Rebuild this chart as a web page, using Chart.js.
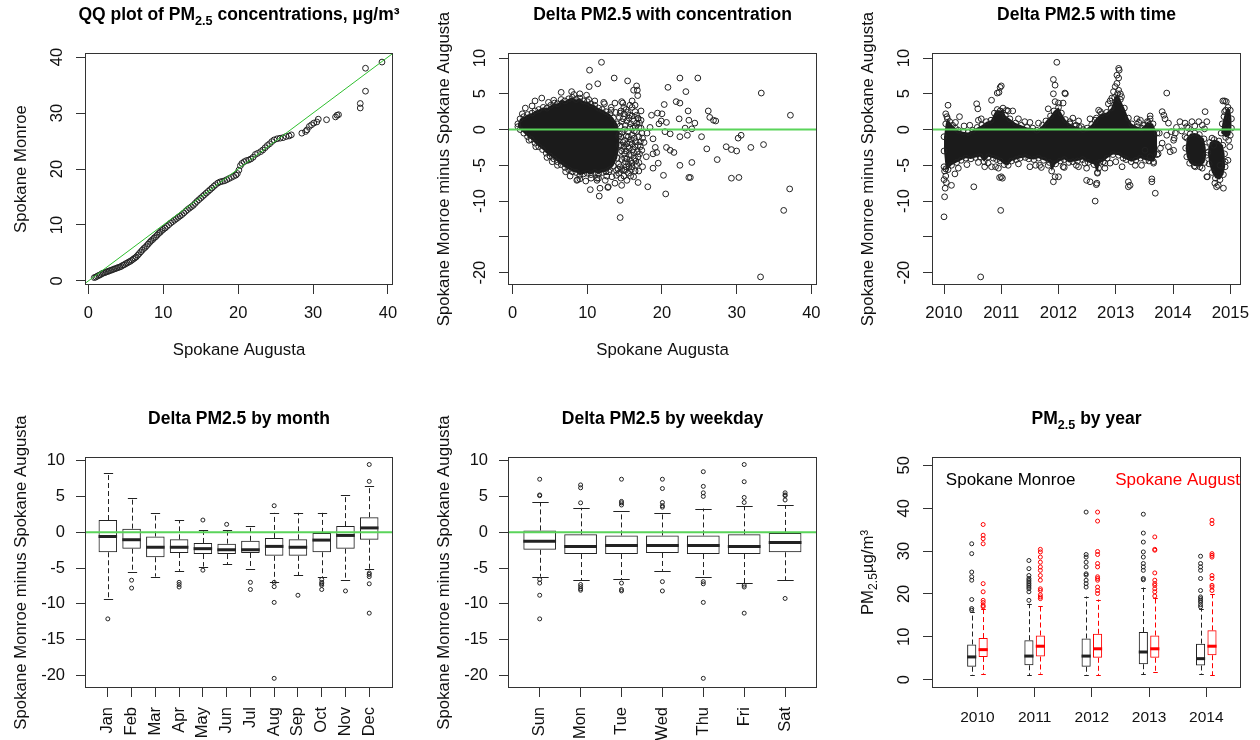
<!DOCTYPE html>
<html>
<head>
<meta charset="utf-8">
<title>Spokane Monroe vs Spokane Augusta PM2.5</title>
<script src="https://cdn.jsdelivr.net/npm/chart.js@4.4.1/dist/chart.umd.min.js"></script>
<style>
  html, body { margin: 0; padding: 0; background: #fff; }
  #wrap { position: relative; width: 1260px; height: 740px; overflow: hidden; }
  #wrap canvas { position: absolute; }
</style>
</head>
<body>
<div id="wrap">
  <canvas id="qq" width="420" height="370" style="left:0;top:0"></canvas>
  <canvas id="conc" width="420" height="370" style="left:420px;top:0"></canvas>
  <canvas id="time" width="420" height="370" style="left:840px;top:0"></canvas>
  <canvas id="month" width="420" height="370" style="left:0;top:370px"></canvas>
  <canvas id="weekday" width="420" height="370" style="left:420px;top:370px"></canvas>
  <canvas id="year" width="420" height="370" style="left:840px;top:370px"></canvas>
</div>
<script>
// ---- values ----

// QQ plot: [Spokane Augusta quantile, Spokane Monroe quantile]
const qqPoints = [
  [0.8,0.6],[1.0,0.7],[1.2,0.85],[1.4,1.0],[1.6,1.1],[1.8,1.3],[2.0,1.4],[2.2,1.5],[2.4,1.6],[2.6,1.7],
  [2.8,1.8],[3.0,1.9],[3.2,2.0],[3.4,2.1],[3.6,2.2],[3.8,2.3],[4.0,2.4],[4.2,2.5],[4.4,2.6],[4.6,2.8],
  [4.8,2.9],[5.0,3.1],[5.2,3.2],[5.4,3.4],[5.6,3.5],[5.8,3.7],[6.0,3.9],[6.2,4.1],[6.4,4.3],[6.6,4.6],
  [6.8,4.9],[7.0,5.2],[7.2,5.5],[7.4,5.8],[7.6,6.0],[7.8,6.3],[8.0,6.6],[8.2,6.9],[8.4,7.2],[8.6,7.4],
  [8.8,7.7],[9.0,7.9],[9.2,8.2],[9.4,8.5],[9.6,8.7],[9.8,9.0],[10.0,9.2],[10.25,9.45],[10.5,9.75],[10.75,10.05],
  [11.0,10.35],[11.25,10.6],[11.5,10.85],[11.75,11.1],[12.0,11.35],[12.25,11.6],[12.5,11.85],[12.75,12.15],[13.0,12.45],[13.25,12.75],
  [13.5,13.0],[13.75,13.25],[14.0,13.5],[14.25,13.85],[14.5,14.2],[14.75,14.5],[15.0,14.8],[15.25,15.1],[15.5,15.4],[15.75,15.7],
  [16.0,16.0],[16.25,16.3],[16.5,16.6],[16.75,16.9],[17.0,17.2],[17.3,17.5],[17.6,17.7],[17.9,17.8],[18.2,17.9],[18.5,18.1],
  [18.8,18.3],[19.1,18.5],[19.4,18.7],[19.7,18.9],[19.9,19.2],[20.1,19.8],[20.3,20.6],[20.5,21.0],[20.8,21.3],[21.1,21.5],
  [21.4,21.6],[21.7,21.8],[22.0,22.1],[22.3,22.6],[22.6,22.8],[23.0,23.1],[23.3,23.4],[23.6,23.8],[23.9,24.2],[24.2,24.5],
  [24.5,24.9],[24.8,25.2],[25.2,25.4],[25.6,25.5],[26.0,25.6],[26.4,25.8],[26.8,25.9],[27.1,26.1],[28.5,26.4],[29.0,26.7],
  [29.2,27.0],[29.5,27.6],[29.8,27.9],[30.1,28.2],[30.5,28.4],[30.7,28.9],[31.8,28.8],[33.0,29.3],[33.2,29.6],[33.4,29.7],
  [36.3,30.9],[36.3,31.7],[37.0,33.9],[37.0,38.0],[39.2,39.1]
];

// delta vs concentration: upper and lower edge of the solid cloud, then single points
const concUpper = [
  [0.7,0.8],[1.0,1.5],[1.5,1.8],[2.0,2.1],[2.6,2.3],[3.0,2.6],[3.5,2.8],[4.1,3.1],[4.6,3.0],[5.1,3.4],
  [5.6,3.7],[6.0,3.6],[6.5,4.2],[7.0,4.0],[7.5,4.3],[8.0,4.5],[8.5,4.2],[9.0,4.4],[9.5,4.0],[10.0,3.9],
  [10.5,3.6],[11.0,3.4],[11.5,3.0],[12.0,2.8],[12.5,2.5],[13.0,2.2],[13.5,1.6],[14.0,0.8],[14.3,-0.6]
];
const concLower = [
  [0.7,0.4],[1.0,0.0],[1.5,-0.5],[2.0,-1.0],[2.5,-1.4],[3.0,-1.9],[3.5,-2.4],[4.0,-2.8],[4.5,-3.3],[5.0,-3.7],
  [5.5,-4.1],[6.0,-4.5],[6.5,-4.9],[7.0,-5.3],[7.5,-5.6],[8.0,-5.9],[8.5,-6.0],[9.0,-6.4],[9.5,-6.2],[10.0,-6.1],
  [10.5,-6.3],[11.0,-6.0],[11.5,-6.2],[12.0,-6.0],[12.5,-5.9],[13.0,-5.6],[13.5,-5.1],[14.0,-4.0],[14.3,-2.2]
];
const concPoints = [
  [10.3,8.3],[11.9,9.4],[10.25,6.0],[11.4,6.4],[13.6,7.2],[15.4,6.8],[16.6,6.1],[16.7,5.5],[16.2,5.5],[16.75,4.75],
  [14.75,3.7],[16.0,3.1],[16.8,1.5],[18.4,0.3],[18.0,-0.5],[18.8,-1.3],[19.1,-2.5],[19.3,-3.2],[18.8,-3.4],[19.5,-4.7],
  [18.8,-5.4],[18.1,-8.0],[14.4,-9.9],[14.4,-12.3],[11.6,-9.3],[10.4,-8.4],[12.75,-8.1],[16.8,-7.4],[15.3,-7.1],[11.3,-7.1],
  [8.6,-7.1],[22.4,7.2],[24.8,7.2],[20.8,5.9],[23.2,5.3],[33.3,5.1],[20.3,3.5],[21.9,3.9],[22.4,3.7],[20.0,2.2],
  [23.5,2.6],[26.2,2.6],[26.4,1.7],[26.9,1.3],[27.2,1.2],[37.2,2.0],[22.3,1.5],[23.6,1.3],[24.4,0.9],[20.6,1.0],
  [23.1,0.2],[24.0,0.1],[21.1,-0.6],[22.4,-1.0],[23.4,-0.8],[25.3,-1.0],[20.6,-2.5],[21.1,-2.9],[21.6,-3.2],[26.0,-2.7],
  [28.6,-2.4],[29.3,-2.8],[30.0,-3.0],[30.6,-0.8],[30.2,-1.2],[31.9,-2.5],[33.6,-2.1],[27.4,-4.2],[22.4,-5.0],[24.0,-4.6],
  [23.6,-6.7],[23.8,-6.7],[29.3,-6.8],[30.3,-6.7],[20.2,-6.4],[20.5,-9.0],[36.3,-11.3],[37.1,-8.3],[33.2,-20.6],[19.4,2.3],
  [19.9,1.2],[18.6,2.0],[17.6,-1.8],[17.9,-3.8],[17.4,-5.2],[19.6,0.8],[20.4,-0.3],
  [13.7,3.7],[14.6,3.9],[15.7,3.4],[14.4,2.3],[15.7,2.0],[16.8,1.6],[16.4,0.4],[17.3,-0.5],[17.1,-1.7],[17.3,-2.9],
  [16.8,-3.8],[16.0,-4.7],[15.1,-5.7],[14.2,-6.1],[13.3,-6.6],[12.4,-7.1],[11.5,-6.8],[13.7,-7.5],[14.6,-7.8],[12.8,-8.0],
  [11.7,-8.2],[15.0,0.0],[15.5,-1.0],[16.0,-2.0],[15.2,-3.0],[16.3,-1.2],[15.8,0.8],[16.6,-0.3],[15.0,-4.0],[16.2,-3.2],
  [14.8,1.5],[15.5,-4.8],[16.8,-2.2],[14.9,-2.4],[15.6,-2.6],[16.1,0.2],[14.5,-1.0],[14.6,-3.0],[14.2,-4.8],[14.4,0.5],
  [15.3,1.2],[16.4,2.5],[15.9,-5.6],[14.9,-6.5],[13.9,-5.7],[12.9,-5.9],[16.5,-4.4],[17.0,0.9],[15.2,2.8],[13.2,3.1],
  [12.3,3.6],[15.4,-0.3],[16.0,-0.8],[16.9,-1.0],[15.7,-1.8],[16.4,-2.4],[17.0,-3.4],[15.9,-3.6],[15.3,-2.0],[16.6,-4.9],
  [15.6,-5.2],[15.1,-4.5],[14.9,-5.6],[16.2,1.2],[15.6,1.6],[17.2,0.2],[16.9,-5.8],[15.8,-6.5],[14.6,-5.6],[15.0,-1.5],
  [16.6,0.9],
  [14.5,2.6],[14.9,2.2],[15.4,2.4],[16.0,1.9],[16.6,2.0],[17.2,1.3],[14.6,1.1],[15.1,0.6],[15.7,0.3],[16.3,-0.2],
  [16.9,0.3],[17.4,-1.2],[14.7,-0.4],[15.2,-0.9],[15.9,-1.4],[16.5,-1.7],[17.1,-2.4],[14.8,-1.8],[15.4,-2.4],[16.1,-2.8],
  [16.7,-3.1],[14.5,-2.2],[15.0,-3.4],[15.6,-3.5],[16.3,-4.0],[14.6,-4.2],[15.3,-4.1],[16.0,-5.2],[16.9,-4.6],[14.4,-5.2],
  [15.2,-5.2],[15.8,-4.4],[14.1,-5.5],[16.4,-5.8],[13.9,-6.4],[14.5,-6.8],[15.5,-6.1],[16.2,-6.6],[14.3,1.7],[13.8,2.4],
  [14.9,3.1],[16.4,3.4],[17.2,2.6],[16.0,4.0],[14.2,-0.9],[14.3,-3.2],
  [3.0,4.0],[3.9,4.4],[5.5,4.1],[6.5,5.2],[7.9,5.3],[9.0,5.0],[9.9,4.8],[11.0,4.0],[1.7,3.0],[2.6,3.3],
  [10.2,4.2],[12.2,3.8],[13.2,2.7],[8.2,4.9],[4.8,3.8],[1.3,2.2],
  [8.7,-7.0],[9.8,-7.2],[9.0,-6.9],[7.7,-6.5],[10.5,-6.8],[11.3,-6.8],[6.0,-5.0],[4.6,-3.9],[3.1,-2.4],[12.6,-6.5],
  [2.2,-1.5],[5.3,-4.5],[7.1,-5.9]
];

// delta with time (decimal year): edges of the solid band, dense 2014 episodes, single points
const timeUpper = [
  [2010.0,-1.0],[2010.03,0.8],[2010.06,1.5],[2010.1,1.1],[2010.15,0.6],[2010.2,0.2],[2010.25,-0.1],[2010.33,-0.3],
  [2010.42,-0.4],[2010.5,-0.1],[2010.58,0.3],[2010.66,0.6],[2010.74,1.1],[2010.82,1.3],[2010.88,2.3],[2010.93,2.8],
  [2010.98,2.6],[2011.03,3.0],[2011.07,2.0],[2011.15,1.5],[2011.25,0.9],[2011.35,0.6],[2011.45,0.3],[2011.55,0.2],
  [2011.62,-0.1],[2011.72,0.6],[2011.78,1.2],[2011.86,1.9],[2011.92,2.6],[2012.0,3.1],[2012.05,2.3],[2012.12,1.4],
  [2012.2,0.8],[2012.28,0.5],[2012.36,0.3],[2012.43,0.0],[2012.5,0.2],[2012.58,0.7],[2012.66,1.6],[2012.75,2.2],
  [2012.84,2.4],[2012.92,3.0],[2012.98,4.5],[2013.03,5.0],[2013.08,4.2],[2013.15,3.0],[2013.22,1.6],[2013.28,0.8],
  [2013.38,0.4],[2013.45,0.2],[2013.5,0.6],[2013.55,1.1],[2013.65,0.8],[2013.72,-0.5]
];
const timeLower = [
  [2010.0,-3.0],[2010.03,-5.5],[2010.07,-5.6],[2010.13,-5.0],[2010.22,-4.6],[2010.3,-4.3],[2010.38,-4.0],[2010.47,-4.1],
  [2010.55,-3.9],[2010.63,-3.8],[2010.7,-4.5],[2010.78,-3.8],[2010.86,-4.0],[2010.92,-4.2],[2010.98,-4.4],[2011.05,-4.9],
  [2011.12,-5.0],[2011.18,-4.4],[2011.26,-4.2],[2011.33,-4.0],[2011.42,-3.9],[2011.48,-4.1],[2011.57,-4.2],[2011.65,-4.0],
  [2011.74,-4.3],[2011.84,-4.6],[2011.88,-5.8],[2011.95,-4.8],[2012.03,-4.4],[2012.1,-4.2],[2012.18,-4.6],[2012.25,-4.5],
  [2012.33,-4.4],[2012.42,-4.2],[2012.52,-4.6],[2012.62,-4.9],[2012.68,-6.0],[2012.72,-4.6],[2012.78,-4.5],[2012.85,-4.0],
  [2012.95,-3.5],[2013.05,-3.6],[2013.13,-4.0],[2013.18,-4.2],[2013.27,-4.5],[2013.35,-4.3],[2013.43,-4.0],[2013.52,-4.3],
  [2013.58,-4.4],[2013.66,-4.5],[2013.72,-3.5]
];
const timeSpring2014 = [
  [2014.24,-1.2],[2014.3,-0.6],[2014.38,-0.5],[2014.46,-0.7],[2014.54,-1.3],[2014.57,-2.5],[2014.58,-3.6],
  [2014.55,-4.6],[2014.47,-5.2],[2014.37,-5.1],[2014.29,-4.7],[2014.24,-3.8],[2014.22,-2.6]
];
const timeAutumn2014 = [
  [2014.64,-1.8],[2014.72,-1.4],[2014.8,-1.6],[2014.87,-2.2],[2014.9,-3.4],[2014.91,-5.2],[2014.88,-6.3],
  [2014.82,-7.0],[2014.74,-6.8],[2014.68,-6.0],[2014.63,-4.8],[2014.61,-3.2]
];
const timeWinter2014 = [
  [2014.84,-0.5],[2014.86,0.8],[2014.89,1.8],[2014.92,2.7],[2014.96,3.1],[2015.0,2.7],[2015.02,1.5],
  [2015.02,0.2],[2015.0,-0.8],[2014.92,-1.1]
];
const timePoints = [
  [2010.0,-12.2],[2010.01,-9.4],[2010.02,-8.2],[2010.0,-7.0],[2010.03,-6.5],[2010.01,-5.8],[2010.04,-7.4],[2010.0,-5.2],
  [2010.19,-6.2],[2010.13,-7.8],[2010.52,-8.0],[2010.64,-20.6],[2010.99,-11.3],[2010.97,-6.7],[2011.02,-6.8],[2011.0,6.1],
  [2010.93,5.1],[2010.96,5.2],[2010.98,5.9],[2010.83,4.1],[2010.57,3.6],[2010.59,2.9],[2010.6,1.3],[2010.07,3.4],
  [2010.03,2.2],[2010.05,1.8],[2010.27,1.8],[2011.09,2.7],[2011.2,2.6],[2010.83,-5.2],[2010.95,-5.4],[2011.0,-6.6],
  [2010.71,-5.2],[2010.77,-4.7],[2011.41,1.1],[2011.5,-5.2],[2011.67,-5.0],[2011.82,-5.0],
  [2011.97,9.4],[2011.91,7.0],[2011.94,6.2],[2011.91,5.0],[2012.12,5.0],[2012.11,5.1],[2011.94,3.9],[2012.0,3.7],
  [2011.82,2.9],[2012.08,3.7],[2011.94,-6.6],[2012.0,-6.6],[2011.91,-7.3],[2012.08,-5.2],[2012.31,-5.0],[2012.49,-7.1],
  [2012.2,1.1],[2012.31,0.6],[2012.4,0.4],
  [2012.64,-10.0],[2012.66,-7.7],[2012.67,-7.5],[2012.55,-7.3],[2012.46,-4.7],[2012.49,-5.4],[2012.67,-4.7],[2012.7,-5.4],
  [2012.68,-6.1],[2012.81,-4.7],[2012.81,-5.4],
  [2013.06,8.3],[2013.05,8.55],[2013.02,7.6],[2013.05,7.2],[2013.02,6.45],[2012.99,6.0],[2013.05,5.5],[2012.96,5.3],
  [2012.93,4.4],[2012.9,4.0],[2012.87,3.6],[2013.1,4.6],[2013.08,5.0],[2012.7,2.7],[2012.73,2.5],[2012.64,1.3],
  [2013.89,5.1],[2013.37,1.5],[2013.43,1.3],[2013.6,1.5],[2013.57,1.0],[2013.81,2.5],[2013.84,2.0],[2013.86,1.5],
  [2013.92,0.9],[2014.04,-0.5],[2014.12,1.1],[2014.21,0.9],[2014.24,0.4],[2014.33,1.1],[2014.45,1.1],[2014.51,0.6],
  [2014.59,1.1],[2013.89,-0.8],[2014.01,-1.5],[2013.92,-2.4],[2014.01,-2.9],[2013.81,-1.9],[2014.21,-1.0],[2014.56,2.5],
  [2014.68,-1.2],[2014.71,-2.2],[2014.97,-1.5],[2014.9,2.5],[2014.93,3.9],[2014.87,4.0],[2014.9,4.0],
  [2013.11,-5.2],[2013.34,-5.0],[2013.22,-7.3],[2013.25,-7.8],[2013.22,-8.0],[2013.63,-6.9],[2013.63,-7.3],[2013.69,-8.9],
  [2013.66,-4.7],[2013.51,-2.9],[2013.6,-3.8],[2014.39,-5.2],[2014.51,-5.4],[2014.59,-6.6],[2014.73,-7.5],[2014.76,-8.0],
  [2014.79,-7.8],[2014.88,-8.2],[2014.91,-4.5],[2014.82,-5.0],[2014.99,-2.4],[2014.96,-4.3],[2014.6,-6.6],
  [2014.02,-1.2],[2013.97,-0.3],[2014.15,-0.2],[2014.06,0.3],[2013.76,-0.5],[2013.78,-2.6],[2013.74,-3.4],[2013.95,-3.1],
  [2014.27,0.2],[2014.38,0.5],[2014.55,0.1],
  [2010.2,1.0],[2010.45,0.6],[2010.65,1.5],[2011.3,1.5],[2011.5,1.0],[2011.65,0.9],[2012.35,1.2],[2012.55,1.5],
  [2013.4,1.0],[2013.6,1.9],[2011.12,2.6],[2010.35,0.5],[2012.25,1.6],
  [2010.4,-4.9],[2010.6,-4.6],[2010.9,-5.2],[2011.3,-4.8],[2011.6,-5.0],[2012.1,-5.3],[2012.35,-5.2],[2012.9,-4.7],
  [2013.0,-4.5],[2013.45,-5.0],[2011.7,-5.3],[2010.25,-5.4]
];

// boxplots: [lower whisker, Q1, median, Q3, upper whisker]
const months = ['Jan', 'Feb', 'Mar', 'Apr', 'May', 'Jun', 'Jul', 'Aug', 'Sep', 'Oct', 'Nov', 'Dec'];
const monthStats = [
  [-9.3, -2.8, -0.6, 1.7, 8.3], [-5.6, -2.3, -1.05, 0.5, 4.8], [-6.2, -3.5, -2.1, -0.6, 2.7],
  [-5.4, -2.9, -2.1, -1.0, 1.7], [-4.8, -3.05, -2.3, -1.5, 0.25], [-4.5, -3.05, -2.45, -1.6, 0.25],
  [-5.2, -2.9, -2.45, -1.2, 0.9], [-6.9, -3.3, -1.98, -0.8, 2.7], [-6.0, -3.3, -2.1, -1.0, 2.7],
  [-6.3, -2.8, -1.1, -0.1, 2.7], [-6.7, -2.3, -0.45, 0.85, 5.2], [-5.1, -1.05, 0.6, 2.1, 6.4]
];
const monthOutliers = [
  [-12.1], [-6.7, -7.8], [], [-7.0, -7.3, -7.65], [1.7, -5.3], [1.1], [-7.0, -8.0],
  [3.7, -7.0, -7.6, -9.8, -20.4], [-8.8], [-6.6, -7.0, -7.2, -7.4, -8.0], [-8.2],
  [9.45, 7.1, -5.7, -5.9, -6.2, -7.2, -11.3]
];
const weekdays = ['Sun', 'Mon', 'Tue', 'Wed', 'Thu', 'Fri', 'Sat'];
const weekdayStats = [
  [-6.2, -2.45, -1.25, 0.25, 4.15], [-6.7, -3.05, -2.0, -0.3, 3.4], [-6.6, -3.05, -1.85, -0.45, 2.95],
  [-5.4, -2.9, -1.85, -0.45, 2.75], [-6.3, -3.05, -1.85, -0.45, 3.3], [-7.1, -3.05, -2.0, -0.3, 3.6],
  [-6.7, -2.8, -1.45, -0.1, 3.75]
];
const weekdayOutliers = [
  [7.4, 5.2, 5.1, -6.6, -7.1, -8.8, -12.1], [6.6, 6.2, 4.1, -7.3, -7.6, -7.9, -8.1],
  [7.4, 4.3, 4.1, 3.8, -7.1, -8.0, -8.2], [7.4, 6.1, 4.15, 3.7, 3.5, -6.9, -8.2],
  [8.45, 6.4, 5.5, 5.0, -6.9, -7.2, -9.8, -20.4], [9.45, 7.05, 4.85, 4.15, -7.4, -7.65, -11.3],
  [5.5, 5.2, 5.1, 4.5, -9.25]
];
const years = [2010, 2011, 2012, 2013, 2014];
const siteNames = ['Spokane Monroe', 'Spokane Augusta'];
const monroeStats = [
  [1.0, 3.0, 5.3, 8.2, 15.8], [1.0, 3.35, 5.5, 9.2, 17.7], [1.0, 3.0, 5.5, 9.6, 19.4],
  [1.25, 3.6, 6.45, 11.1, 21.5], [1.25, 3.3, 4.9, 8.4, 16.6]
];
const monroeOutliers = [
  [16.2, 16.6, 18.7, 23.2, 24.0, 25.1, 29.4, 31.7],
  [18.5, 20.5, 21.2, 21.6, 22.0, 22.4, 22.8, 23.2, 23.6, 24.3, 25.9, 27.8],
  [21.6, 22.4, 23.2, 24.4, 24.7, 26.3, 27.4, 28.6, 29.2, 39.1],
  [23.3, 23.6, 25.5, 26.3, 27.1, 28.6, 29.8, 32.1, 34.2, 38.6],
  [17.0, 17.5, 18.1, 18.5, 18.9, 19.3, 20.8, 23.6, 25.5, 26.3, 27.1, 28.8]
];
const augustaStats = [
  [1.4, 5.3, 7.0, 9.7, 16.6], [1.4, 5.4, 7.8, 10.3, 17.1], [1.0, 5.1, 7.2, 10.7, 18.7],
  [1.8, 5.1, 7.2, 10.3, 19.1], [1.0, 5.7, 7.8, 11.5, 19.9]
];
const augustaOutliers = [
  [17.0, 17.3, 18.0, 18.5, 20.5, 22.4, 31.7, 32.9, 33.7, 36.2],
  [18.9, 19.3, 19.8, 20.8, 21.2, 23.2, 24.3, 25.5, 26.3, 27.4, 28.6, 29.8, 30.4],
  [20.1, 20.8, 21.6, 23.2, 23.6, 24.0, 26.3, 27.1, 29.2, 29.9, 37.0, 39.1],
  [19.5, 20.5, 21.2, 22.0, 22.4, 23.2, 24.9, 30.2, 30.4, 33.3],
  [20.8, 21.6, 22.0, 23.6, 24.3, 28.6, 29.0, 29.4, 36.4, 37.2]
];

// tick marks and their labels
const concTicks = [0, 10, 20, 30, 40];
const deltaTicks = [-20, -15, -10, -5, 0, 5, 10];
const deltaTickLabels = ['-20', '', '-10', '-5', '0', '5', '10'];
const boxTickLabels = ['-20', '-15', '-10', '-5', '0', '5', '10'];
const timeTicks = [2010, 2011, 2012, 2013, 2014, 2015];
const pmTicks = [0, 10, 20, 30, 40, 50];

// ---- drawing ----
const INK = '#222';
const RED = '#ff0000';
const GREEN = '#5ad45a';
const FONT = '"Liberation Sans", Arial, Helvetica, sans-serif';

// text with R-like subscripts written as PM_{2.5}
function richText(ctx, text, x, y, size, bold, rotate, align) {
  const parts = String(text).split(/(_\{[^}]*\})/).filter(Boolean)
    .map(s => s.startsWith('_{') ? { t: s.slice(2, -1), sub: true } : { t: s, sub: false });
  const fontFor = p => (bold ? 'bold ' : '') + (p.sub ? size * 0.72 : size) + 'px ' + FONT;
  ctx.save();
  ctx.translate(x, y);
  if (rotate) ctx.rotate(-Math.PI / 2);
  ctx.textBaseline = 'middle';
  ctx.textAlign = 'left';
  let w = 0;
  parts.forEach(p => { ctx.font = fontFor(p); w += ctx.measureText(p.t).width; });
  let cx = align === 'right' ? -w : align === 'left' ? 0 : -w / 2;
  parts.forEach(p => {
    ctx.font = fontFor(p);
    ctx.fillText(p.t, cx, p.sub ? size * 0.32 : 0);
    cx += ctx.measureText(p.t).width;
  });
  ctx.restore();
}

function clipArea(ctx, a) {
  ctx.beginPath();
  ctx.rect(a.left, a.top, a.right - a.left, a.bottom - a.top);
  ctx.clip();
}

// closed outline from an upper and a lower edge, both given left to right
const outline = (upper, lower) => upper.concat(lower.slice().reverse());

// base-graphics look: dense clouds, boxplot parts, abline, frame and all text
const rPlot = {
  id: 'rPlot',
  beforeDatasetsDraw(chart, args, o) {
    if (!o.cores) return;
    const { ctx, chartArea: a, scales: { x, y } } = chart;
    ctx.save();
    clipArea(ctx, a);
    ctx.fillStyle = '#1b1b1b';
    o.cores.forEach(poly => {
      ctx.beginPath();
      poly.forEach(([vx, vy], i) => {
        const px = x.getPixelForValue(vx), py = y.getPixelForValue(vy);
        if (i) ctx.lineTo(px, py); else ctx.moveTo(px, py);
      });
      ctx.closePath();
      ctx.fill();
    });
    ctx.restore();
  },
  afterDatasetsDraw(chart, args, o) {
    const { ctx, chartArea: a, scales: { x, y } } = chart;
    (o.boxes || []).forEach(b => {
      const meta = chart.getDatasetMeta(b.dataset);
      meta.data.forEach((bar, i) => {
        const [lo, q1, med, q3, hi] = b.stats[i];
        const cx = Math.round(bar.x) + 0.5, w = bar.width;
        ctx.save();
        ctx.strokeStyle = b.color;
        ctx.lineWidth = 1;
        ctx.setLineDash([5, 3]);
        ctx.beginPath();
        ctx.moveTo(cx, y.getPixelForValue(q3)); ctx.lineTo(cx, y.getPixelForValue(hi));
        ctx.moveTo(cx, y.getPixelForValue(q1)); ctx.lineTo(cx, y.getPixelForValue(lo));
        ctx.stroke();
        ctx.setLineDash([]);
        ctx.beginPath();
        [lo, hi].forEach(v => {
          const py = Math.round(y.getPixelForValue(v)) + 0.5;
          ctx.moveTo(cx - w / 4, py); ctx.lineTo(cx + w / 4, py);
        });
        ctx.stroke();
        ctx.lineWidth = 3;
        ctx.beginPath();
        const pm = y.getPixelForValue(med);
        ctx.moveTo(bar.x - w / 2, pm); ctx.lineTo(bar.x + w / 2, pm);
        ctx.stroke();
        ctx.lineWidth = 1;
        (b.outliers[i] || []).forEach(v => {
          ctx.beginPath();
          ctx.arc(bar.x, y.getPixelForValue(v), 2, 0, Math.PI * 2);
          ctx.stroke();
        });
        ctx.restore();
      });
    });
    if (o.refLine) {
      const r = o.refLine;
      ctx.save();
      clipArea(ctx, a);
      ctx.strokeStyle = r.color;
      ctx.lineWidth = r.width;
      ctx.beginPath();
      ctx.moveTo(x.getPixelForValue(x.min), y.getPixelForValue(r.intercept + r.slope * x.min));
      ctx.lineTo(x.getPixelForValue(x.max), y.getPixelForValue(r.intercept + r.slope * x.max));
      ctx.stroke();
      ctx.restore();
    }
  },
  afterDraw(chart, args, o) {
    const { ctx, chartArea: a, scales: { x, y } } = chart;
    ctx.save();
    ctx.strokeStyle = '#333';
    ctx.lineWidth = 1;
    ctx.strokeRect(a.left + 0.5, a.top + 0.5, a.right - a.left - 1, a.bottom - a.top - 1);

    ctx.fillStyle = '#111';
    const xt = o.xTicks, yt = o.yTicks;
    x.ticks.forEach((t, i) => {
      richText(ctx, xt.labels[i], x.getPixelForValue(t.value), a.bottom + xt.offset,
        xt.size, false, xt.rotate, xt.rotate ? 'right' : 'center');
    });
    y.ticks.forEach((t, i) => {
      richText(ctx, yt.labels[i], a.left - yt.offset, y.getPixelForValue(t.value),
        yt.size, false, yt.rotate, yt.rotate ? 'center' : 'right');
    });

    const cx = (a.left + a.right) / 2, cy = (a.top + a.bottom) / 2;
    if (o.xTitle) richText(ctx, o.xTitle, cx, a.bottom + 65, 16.8, false, false);
    richText(ctx, o.yTitle, a.left - 64, cy, 16.8, false, true);
    ctx.fillStyle = '#000';
    richText(ctx, o.title, cx, a.top - 37.5, 17.5, true, false);

    if (o.notes) {
      clipArea(ctx, a);
      o.notes.forEach(n => {
        ctx.fillStyle = n.color;
        richText(ctx, n.text, x.getPixelForValue(n.x), y.getPixelForValue(n.y), 17, false, false);
      });
    }
    ctx.restore();
  }
};

function axis(min, max, ticks, horizontal) {
  return {
    type: 'linear', min, max, bounds: 'data', offset: false,
    afterBuildTicks: s => { s.ticks = ticks.map(v => ({ value: v })); },
    afterFit: s => { if (horizontal) s.height = 0; else s.width = 0; },
    ticks: { display: false },
    border: { display: false },
    grid: { display: true, offset: false, drawOnChartArea: false, drawTicks: true, tickLength: 9, color: '#333', tickColor: '#333' }
  };
}

function options(pad, xs, ys, plot) {
  return {
    responsive: false, animation: false, devicePixelRatio: 1, events: [],
    layout: { padding: { left: pad[0], right: pad[1], top: pad[2], bottom: pad[3] } },
    plugins: { legend: { display: false }, tooltip: { enabled: false }, title: { display: false }, rPlot: plot },
    scales: { x: axis(xs[0], xs[1], xs[2], true), y: axis(ys[0], ys[1], ys[2], false) }
  };
}

function pointSet(pts) {
  return {
    type: 'scatter',
    data: pts.map(([a, b]) => ({ x: a, y: b })),
    showLine: false,
    pointRadius: 2.9, pointHoverRadius: 2.9, pointBorderWidth: 1,
    pointBorderColor: INK, pointBackgroundColor: 'rgba(0,0,0,0)'
  };
}

function boxSet(stats, positions, color, catPct, barPct) {
  return {
    type: 'bar',
    data: stats.map((s, i) => ({ x: positions[i], y: [s[1], s[3]] })),
    backgroundColor: 'rgba(0,0,0,0)', borderColor: color, borderWidth: 1, borderSkipped: false,
    categoryPercentage: catPct, barPercentage: barPct
  };
}

const tickStyle = (labels, rotate, offset, size) => ({ labels, rotate, offset, size: size || 16.5 });
const concLabels = concTicks.map(String);

new Chart(document.getElementById('qq'), {
  type: 'scatter',
  data: { datasets: [pointSet(qqPoints)] },
  options: options([85, 27, 53, 85], [-0.44, 40.67, concTicks], [-0.72, 40.72, concTicks], {
    title: 'QQ plot of PM_{2.5} concentrations, µg/m³',
    xTitle: 'Spokane Augusta', yTitle: 'Spokane Monroe',
    xTicks: tickStyle(concLabels, false, 28.5), yTicks: tickStyle(concLabels, true, 28),
    refLine: { slope: 1, intercept: 0, color: '#2fbf2f', width: 1 }
  }),
  plugins: [rPlot]
});

new Chart(document.getElementById('conc'), {
  type: 'scatter',
  data: { datasets: [pointSet(concPoints.concat(concUpper, concLower))] },
  options: options([88, 23, 53, 85], [-0.62, 40.76, concTicks], [-21.73, 10.7, deltaTicks], {
    title: 'Delta PM2.5 with concentration',
    xTitle: 'Spokane Augusta', yTitle: 'Spokane Monroe minus Spokane Augusta',
    xTicks: tickStyle(concLabels, false, 28.5), yTicks: tickStyle(deltaTickLabels, true, 27.5),
    cores: [outline(concUpper, concLower)],
    refLine: { slope: 0, intercept: 0, color: GREEN, width: 2 }
  }),
  plugins: [rPlot]
});

new Chart(document.getElementById('time'), {
  type: 'scatter',
  data: { datasets: [pointSet(timePoints.concat(timeUpper, timeLower, timeSpring2014, timeAutumn2014, timeWinter2014))] },
  options: options([92, 19, 53, 85], [2009.79, 2015.187, timeTicks], [-21.73, 10.7, deltaTicks], {
    title: 'Delta PM2.5 with time',
    yTitle: 'Spokane Monroe minus Spokane Augusta',
    xTicks: tickStyle(timeTicks.map(String), false, 28.5, 16.8), yTicks: tickStyle(deltaTickLabels, true, 27.5),
    cores: [outline(timeUpper, timeLower), timeSpring2014, timeAutumn2014, timeWinter2014],
    refLine: { slope: 0, intercept: 0, color: GREEN, width: 2 }
  }),
  plugins: [rPlot]
});

const monthPos = months.map((m, i) => i + 1);
new Chart(document.getElementById('month'), {
  type: 'bar',
  data: { datasets: [boxSet(monthStats, monthPos, INK, 1, 0.78)] },
  options: options([85, 27, 87, 52], [0.04, 13.0, monthPos], [-21.75, 10.5, deltaTicks], {
    title: 'Delta PM2.5 by month',
    yTitle: 'Spokane Monroe minus Spokane Augusta',
    xTicks: tickStyle(months, true, 19), yTicks: tickStyle(boxTickLabels, false, 20),
    boxes: [{ dataset: 0, stats: monthStats, outliers: monthOutliers, color: INK }],
    refLine: { slope: 0, intercept: 0, color: GREEN, width: 2 }
  }),
  plugins: [rPlot]
});

const dayPos = weekdays.map((d, i) => i + 1);
new Chart(document.getElementById('weekday'), {
  type: 'bar',
  data: { datasets: [boxSet(weekdayStats, dayPos, INK, 1, 0.8)] },
  options: options([88, 23, 87, 52], [0.225, 7.78, dayPos], [-21.75, 10.5, deltaTicks], {
    title: 'Delta PM2.5 by weekday',
    yTitle: 'Spokane Monroe minus Spokane Augusta',
    xTicks: tickStyle(weekdays, true, 19), yTicks: tickStyle(boxTickLabels, false, 20),
    boxes: [{ dataset: 0, stats: weekdayStats, outliers: weekdayOutliers, color: INK }],
    refLine: { slope: 0, intercept: 0, color: GREEN, width: 2 }
  }),
  plugins: [rPlot]
});

new Chart(document.getElementById('year'), {
  type: 'bar',
  data: { datasets: [boxSet(monroeStats, years, INK, 0.4, 0.8), boxSet(augustaStats, years, RED, 0.4, 0.8)] },
  options: options([92, 19, 87, 52], [2009.206, 2014.607, years], [-1.95, 51.95, pmTicks], {
    title: 'PM_{2.5} by year',
    yTitle: 'PM_{2.5}µg/m³',
    xTicks: tickStyle(years.map(String), false, 29.5, 15.5), yTicks: tickStyle(pmTicks.map(String), true, 27.5),
    boxes: [
      { dataset: 0, stats: monroeStats, outliers: monroeOutliers, color: INK },
      { dataset: 1, stats: augustaStats, outliers: augustaOutliers, color: RED }
    ],
    notes: [
      { text: siteNames[0], x: 2010.58, y: 46.5, color: '#000' },
      { text: siteNames[1], x: 2013.58, y: 46.5, color: RED }
    ]
  }),
  plugins: [rPlot]
});
</script>
</body>
</html>
